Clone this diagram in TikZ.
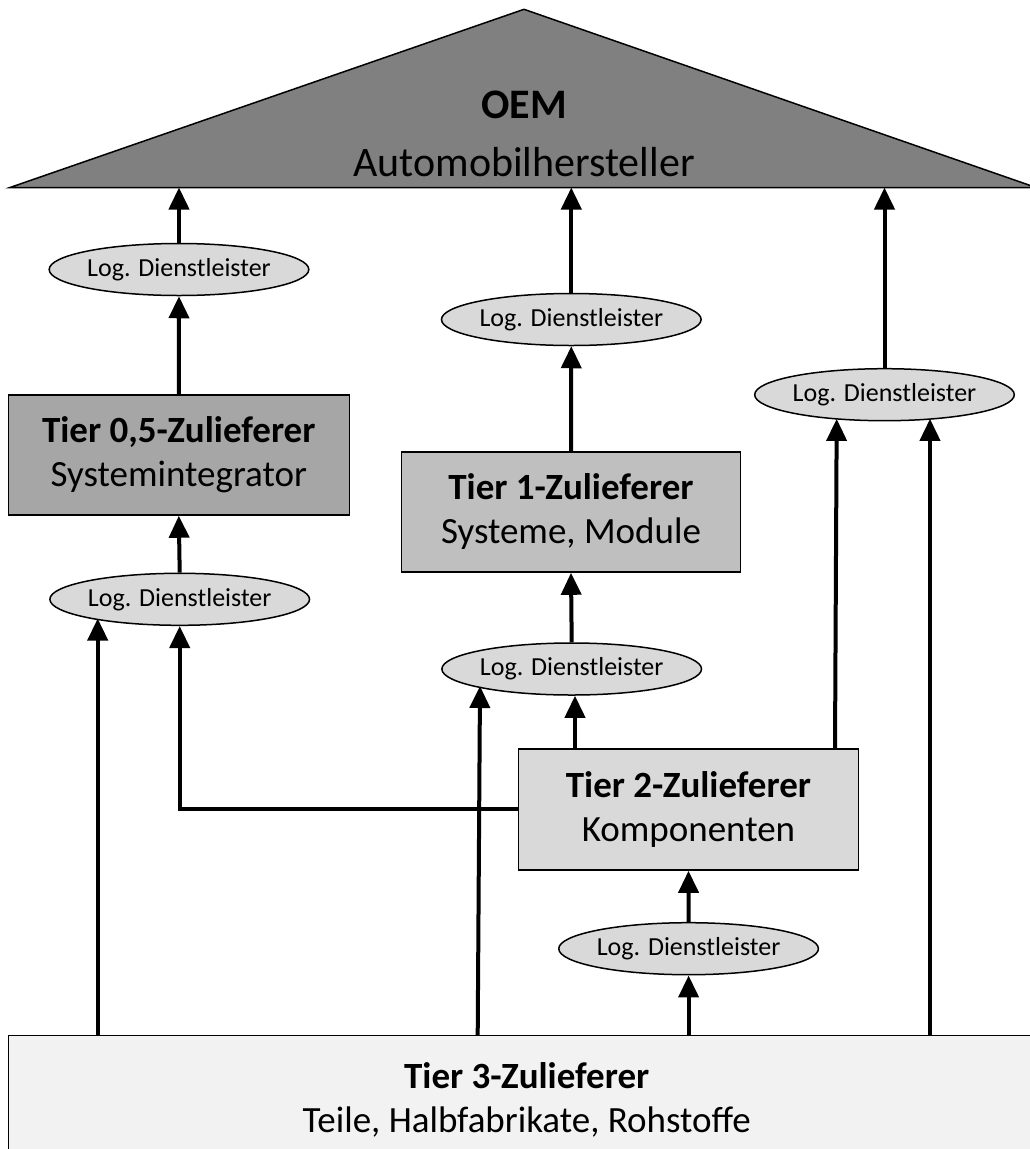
\documentclass[tikz,border=0pt]{standalone}
\usepackage{fontspec}
\setmainfont{Carlito}
\usetikzlibrary{arrows.meta,calc,shapes.geometric}
\definecolor{roofgray}{HTML}{808080}
\definecolor{halftier}{HTML}{A6A6A6}
\definecolor{onetier}{HTML}{BFBFBF}
\definecolor{twotier}{HTML}{D9D9D9}
\definecolor{threetier}{HTML}{F2F2F2}
\definecolor{lspgray}{HTML}{D9D9D9}

\begin{document}
\begin{tikzpicture}[x=1pt,y=-1pt,
  box/.style={draw=black,line width=1.5pt,rectangle,inner sep=0pt,align=center,
    font=\fontsize{37}{44}\selectfont},
  lsp/.style={draw=black,line width=1.5pt,ellipse,fill=lspgray,minimum width=243pt,
    minimum height=52pt,inner sep=0pt,font=\fontsize{26}{30}\selectfont},
  flow/.style={line width=4pt,line join=miter,-{Triangle[width=20pt,length=22pt]}}
]
\useasboundingbox (0,0) rectangle (1030,1149);

% roof: the car maker
\draw[line width=1.5pt,fill=roofgray,line join=miter] (10,187.5) -- (524,9.3) -- (1036,187.5) -- cycle;
\node[font=\fontsize{42}{58}\selectfont,align=center] (oem) at (524,134)
  {\textbf{OEM}\\Automobilhersteller};
\coordinate (eave) at (0,187.5);

% supplier tiers
\node[box,fill=halftier,minimum width=341pt,minimum height=120pt] (t05) at (178.8,455)
  {\textbf{Tier 0,5-Zulieferer}\\Systemintegrator};
\node[box,fill=onetier,minimum width=338.6pt,minimum height=120.3pt] (t1) at (571,511.9)
  {\textbf{Tier 1-Zulieferer}\\Systeme, Module};
\node[box,fill=twotier,minimum width=340.4pt,minimum height=121.3pt] (t2) at (688.5,809.4)
  {\textbf{Tier 2-Zulieferer}\\Komponenten};
\node[box,fill=threetier,minimum width=1036.5pt,minimum height=129.3pt] (t3) at (526.75,1100.35)
  {\textbf{Tier 3-Zulieferer}\\Teile, Halbfabrikate, Rohstoffe};

% logistics service providers
\node[lsp] (l1) at (179,269.5) {Log. Dienstleister};
\node[lsp] (l2) at (571.3,319.5) {Log. Dienstleister};
\node[lsp] (l3) at (884.5,394.7) {Log. Dienstleister};
\node[lsp] (l4) at (179.7,599.3) {Log. Dienstleister};
\node[lsp] (l5) at (571.7,669) {Log. Dienstleister};
\node[lsp] (l6) at (688.6,948.7) {Log. Dienstleister};

% material flows
\draw[flow] (l1.north) -- (l1.north |- eave);
\draw[flow] (t05.north) -- (l1.south);
\draw[flow] (l4.north) -- (t05.south);
\draw[flow] (97.7,0 |- t3.north) -- ($(l4.center)+(-82,19.2)$);
\draw[flow] (t2.west) -- (l4.south |- t2.west) -- (l4.south);

\draw[flow] (l2.north) -- (l2.north |- eave);
\draw[flow] (t1.north) -- (l2.south);
\draw[flow] (l5.north) -- (t1.south);
\draw[flow] (575,0 |- t2.north) -- (575,0 |- l5.south);
\draw[flow] (477.7,0 |- t3.north) -- ($(l5.center)+(-91.7,17)$);

\draw[flow] (l6.north) -- (t2.south);
\draw[flow] (l6.south |- t3.north) -- (l6.south);

\draw[flow] (835,0 |- t2.north) -- ($(l3.center)+(-47.8,24.2)$);
\draw[flow] (930,0 |- t3.north) -- ($(l3.center)+(45.5,24.1)$);
\draw[flow] (l3.north) -- (l3.north |- eave);
\end{tikzpicture}
\end{document}
